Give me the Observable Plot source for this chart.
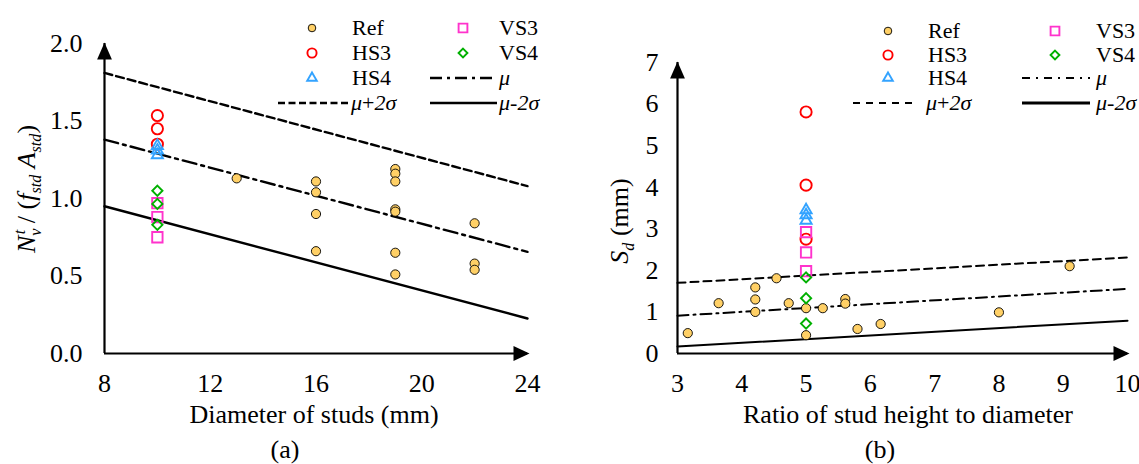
<!DOCTYPE html>
<html><head><meta charset="utf-8">
<script src="https://cdn.jsdelivr.net/npm/d3@7"></script>
<script src="https://cdn.jsdelivr.net/npm/@observablehq/plot@0.6"></script>
<style>
body{margin:0;background:#fff;}
#chart{position:relative;width:1139px;height:464px;font-family:"Liberation Serif","Times New Roman",serif;color:#000;overflow:hidden;background:#fff}
.panel{position:absolute;top:0}
#chart svg.panel text{font-family:"Liberation Serif","Times New Roman",serif !important;font-size:26px !important;fill:#000}
.t{position:absolute;white-space:nowrap;line-height:1;transform:translate(-50%,-50%);font-size:26px}
.lg{position:absolute;white-space:nowrap;line-height:1;transform:translateY(-50%);font-size:22px}
.yt{position:absolute;white-space:nowrap;line-height:1;transform:translate(-50%,-50%) rotate(-90deg);font-size:26px}
.yt sub,.yt sup{font-size:0.62em;line-height:0}
</style></head><body><div id="chart"></div><script>
// ---------- Panel (a) data ----------
const diamTicks = [8, 12, 16, 20, 24];
const nvTicks = [0, 0.5, 1.0, 1.5, 2.0];
const refDiam = [13, 16, 16, 16, 16, 19, 19, 19, 19, 19, 19, 19, 22, 22, 22];
const refNv   = [1.13, 1.11, 1.04, 0.90, 0.66, 1.19, 1.16, 1.11, 0.93, 0.915, 0.65, 0.51, 0.84, 0.58, 0.54];
const hs3Diam = [10, 10, 10];
const hs3Nv   = [1.535, 1.45, 1.35];
const hs4Diam = [10, 10, 10];
const hs4Nv   = [1.34, 1.31, 1.28];
const vs3Diam = [10, 10, 10];
const vs3Nv   = [0.97, 0.88, 0.75];
const vs4Diam = [10, 10, 10];
const vs4Nv   = [1.05, 0.965, 0.83];
const fitDiam = [8, 24];
const muNv    = [1.38, 0.656];
const upNv    = [1.81, 1.08];
const loNv    = [0.95, 0.226];

// ---------- Panel (b) data ----------
const ratioTicks = [3, 4, 5, 6, 7, 8, 9, 10];
const sdTicks = [0, 1, 2, 3, 4, 5, 6, 7];
const refRatio = [3.16, 3.64, 4.21, 4.21, 4.21, 4.54, 4.73, 5.0, 5.0, 5.26, 5.61, 5.61, 5.8, 6.16, 8.0, 9.1];
const refSd    = [0.49, 1.21, 1.59, 1.30, 1.0, 1.81, 1.21, 1.09, 0.44, 1.09, 1.31, 1.20, 0.59, 0.71, 0.99, 2.10];
const hs3Ratio = [5, 5, 5];
const hs3Sd    = [5.81, 4.05, 2.75];
const hs4Ratio = [5, 5, 5];
const hs4Sd    = [3.45, 3.33, 3.2];
const vs3Ratio = [5, 5, 5];
const vs3Sd    = [2.92, 2.43, 1.98];
const vs4Ratio = [5, 5, 5];
const vs4Sd    = [1.83, 1.33, 0.72];
const fitRatio = [3, 10];
const muSd     = [0.91, 1.555];
const upSd     = [1.70, 2.31];
const loSd     = [0.168, 0.79];

// ---------- styling ----------
const FONT = '"Liberation Serif","Times New Roman",serif';
const REF_FILL = "#FFD066", C_HS3 = "#FF0000", C_HS4 = "#33A3FF", C_VS3 = "#FF33CC", C_VS4 = "#00B000";
const zip = (xs, ys) => xs.map((x, i) => ({x, y: ys[i]}));
const arrowRight = {draw(ctx){ ctx.moveTo(2,0); ctx.lineTo(-14,-7.4); ctx.lineTo(-14,7.4); ctx.closePath(); }};
const arrowUp = {draw(ctx){ ctx.moveTo(0,-1); ctx.lineTo(-7.4,16); ctx.lineTo(7.4,16); ctx.closePath(); }};

function panel(o) {
  const mu = zip(o.fitX, o.mu), up = zip(o.fitX, o.up), lo = zip(o.fitX, o.lo);
  const svg = Plot.plot({
    width: o.width, height: 464,
    marginLeft: o.ml, marginRight: o.mr, marginTop: o.mt, marginBottom: 111,
    style: {fontFamily: FONT, fontSize: "26px", color: "black", background: "transparent", overflow: "visible"},
    x: {domain: o.xDomain, ticks: o.xTicks, tickSize: 0, tickPadding: 20, tickFormat: d => String(d), label: null},
    y: {domain: o.yDomain, ticks: o.yTicks, tickSize: 0, tickPadding: o.yPad, tickFormat: o.yFmt, label: null},
    marks: [
      Plot.ruleY([o.yDomain[0]], {stroke: "black", strokeWidth: 2.2}),
      Plot.ruleX([o.xDomain[0]], {stroke: "black", strokeWidth: 2.2}),
      Plot.dot([{x: o.xDomain[1], y: o.yDomain[0]}], {x: "x", y: "y", symbol: arrowRight, fill: "black", stroke: "none"}),
      Plot.dot([{x: o.xDomain[0], y: o.yDomain[1]}], {x: "x", y: "y", symbol: arrowUp, fill: "black", stroke: "none"}),
      Plot.line(up, {x: "x", y: "y", stroke: "black", strokeWidth: o.lw, strokeDasharray: o.dash}),
      Plot.line(mu, {x: "x", y: "y", stroke: "black", strokeWidth: o.lw, strokeDasharray: o.dashdot}),
      Plot.line(lo, {x: "x", y: "y", stroke: "black", strokeWidth: o.lw}),
      Plot.dot(zip(o.refX, o.refY), {x: "x", y: "y", r: 4.6, fill: REF_FILL, stroke: "black", strokeWidth: 0.9}),
      Plot.dot(zip(o.hs3X, o.hs3Y), {x: "x", y: "y", symbol: "circle", r: 5.6, fill: "none", stroke: C_HS3, strokeWidth: 1.9}),
      Plot.dot(zip(o.hs4X, o.hs4Y), {x: "x", y: "y", symbol: "triangle2", r: 5.3, fill: "none", stroke: C_HS4, strokeWidth: 1.9}),
      Plot.dot(zip(o.vs3X, o.vs3Y), {x: "x", y: "y", symbol: "square2", r: 6.6, fill: "none", stroke: C_VS3, strokeWidth: 1.9}),
      Plot.dot(zip(o.vs4X, o.vs4Y), {x: "x", y: "y", symbol: "diamond2", r: 4.6, fill: "none", stroke: C_VS4, strokeWidth: 1.9})
    ]
  });
  svg.setAttribute("font-family", FONT);
  svg.setAttribute("font-size", "26");
  d3.select(svg).selectAll("text").attr("font-family", FONT).attr("font-size", 26).style("font-family", FONT).style("font-size", "26px");
  return svg;
}

const chart = document.getElementById("chart");

const plotA = panel({
  width: 570, ml: 104, mr: 43, mt: 43,
  xDomain: [8, 24], yDomain: [0, 2], xTicks: diamTicks, yTicks: nvTicks,
  yFmt: d3.format(".1f"), yPad: 22, lw: 2.4, dash: "8,4", dashdot: "14,5,3,5",
  fitX: fitDiam, mu: muNv, up: upNv, lo: loNv,
  refX: refDiam, refY: refNv, hs3X: hs3Diam, hs3Y: hs3Nv, hs4X: hs4Diam, hs4Y: hs4Nv,
  vs3X: vs3Diam, vs3Y: vs3Nv, vs4X: vs4Diam, vs4Y: vs4Nv
});
plotA.classList.add("panel"); plotA.style.left = "0px";
chart.appendChild(plotA);

const plotB = panel({
  width: 569, ml: 107, mr: 12, mt: 62,
  xDomain: [3, 10], yDomain: [0, 7], xTicks: ratioTicks, yTicks: sdTicks,
  yFmt: d => String(d), yPad: 19, lw: 2.0, dash: "8,5", dashdot: "11,5,2,5",
  fitX: fitRatio, mu: muSd, up: upSd, lo: loSd,
  refX: refRatio, refY: refSd, hs3X: hs3Ratio, hs3Y: hs3Sd, hs4X: hs4Ratio, hs4Y: hs4Sd,
  vs3X: vs3Ratio, vs3Y: vs3Sd, vs4X: vs4Ratio, vs4Y: vs4Sd
});
plotB.classList.add("panel"); plotB.style.left = "570px";
chart.appendChild(plotB);

// ---------- text ----------
function addText(cls, x, y, html) {
  const d = document.createElement("div");
  d.className = cls; d.style.left = x + "px"; d.style.top = y + "px"; d.innerHTML = html;
  chart.appendChild(d);
}
addText("t", 314, 415, "Diameter of studs (mm)");
addText("t", 285, 450, "(a)");
addText("t", 908, 415, "Ratio of stud height to diameter");
addText("t", 880, 450, "(b)");
addText("yt", 27, 189, '<i>N</i><sub><i>v</i></sub><sup style="margin-left:-0.35em"><i>t</i></sup> / (<i>f</i><sub><i>std</i></sub> <i>A</i><sub><i>std</i></sub>)');
addText("yt", 620, 221, '<i>S</i><sub><i>d</i></sub> (mm)');

// ---------- legends ----------
function legendSymbol(cx, cy, type, r, fill, stroke, sw) {
  const s = d3.create("svg").attr("width", 30).attr("height", 30)
    .style("position", "absolute").style("left", (cx - 15) + "px").style("top", (cy - 15) + "px").style("overflow", "visible");
  s.append("path").attr("transform", "translate(15,15)")
    .attr("d", d3.symbol(type, Math.PI * r * r)()).attr("fill", fill).attr("stroke", stroke).attr("stroke-width", sw);
  chart.appendChild(s.node());
}
function legendLine(x1, x2, y, sw, dash) {
  const s = d3.create("svg").attr("width", x2 - x1).attr("height", 10)
    .style("position", "absolute").style("left", x1 + "px").style("top", (y - 5) + "px");
  s.append("line").attr("x1", 0).attr("x2", x2 - x1).attr("y1", 5).attr("y2", 5)
    .attr("stroke", "black").attr("stroke-width", sw).attr("stroke-dasharray", dash || null);
  chart.appendChild(s.node());
}
function legend(L) {
  const [r1, r2, r3, r4] = L.rows;
  legendSymbol(L.s1, r1, d3.symbolCircle, 3.8, REF_FILL, "black", 0.9);
  legendSymbol(L.s1, r2, d3.symbolCircle, 4.6, "none", C_HS3, 1.9);
  legendSymbol(L.s1, r3, d3.symbolTriangle2, 4.6, "none", C_HS4, 1.9);
  legendSymbol(L.s2, r1, d3.symbolSquare2, 5.6, "none", C_VS3, 1.9);
  legendSymbol(L.s2, r2, d3.symbolDiamond2, 4.0, "none", C_VS4, 1.9);
  addText("lg", L.t1, r1, "Ref");
  addText("lg", L.t1, r2, "HS3");
  addText("lg", L.t1, r3, "HS4");
  addText("lg", L.t2, r1, "VS3");
  addText("lg", L.t2, r2, "VS4");
  legendLine(L.l2a, L.l2b, r3, L.lw, L.dashdot);
  addText("lg", L.t2, r3, "<i>μ</i>");
  legendLine(L.l1a, L.l1b, r4, L.lw, L.dash);
  addText("lg", L.t3, r4, "<i>μ</i>+<i>2σ</i>");
  legendLine(L.l2a, L.l2b, r4, L.lw2, null);
  addText("lg", L.t2, r4, "<i>μ</i>-<i>2σ</i>");
}
legend({rows: [28, 53, 78, 103], s1: 312, t1: 352, s2: 463, t2: 499,
  l1a: 278, l1b: 348, l2a: 430, l2b: 497, t3: 351, lw: 2.6, lw2: 2.6, dash: "7,3.5", dashdot: "12,5,3,5"});
legend({rows: [31, 55, 78, 103], s1: 888, t1: 928, s2: 1055, t2: 1096,
  l1a: 853, l1b: 917, l2a: 1022, l2b: 1090, t3: 926, lw: 1.8, lw2: 3.2, dash: "7,6", dashdot: "8,6,2,6"});
</script></body></html>
